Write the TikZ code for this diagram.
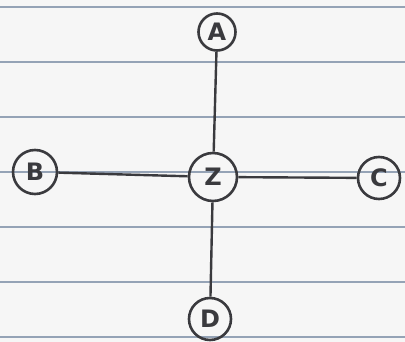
\documentclass[tikz,border=0pt]{standalone}
\usepackage{fontspec}
\setmainfont{DejaVu Sans}
\definecolor{ink}{HTML}{3A3A3E}
\definecolor{rule}{HTML}{95A3B6}
\definecolor{paper}{HTML}{F6F6F6}
\begin{document}
\begin{tikzpicture}[x=1pt,y=-1pt,
  vert/.style={circle,draw=ink,line width=2.6pt,minimum size=40pt,inner sep=0pt,text=ink,font=\fontsize{24}{24}\selectfont\bfseries},
  edge/.style={draw=ink,line width=2.4pt},
  ruleline/.style={draw=rule,line width=2pt}]
\fill[paper] (0,0) rectangle (405,342);
\useasboundingbox (0,0) rectangle (405,342);
\foreach \y in {7,62,117,172,227,282,337}
  \draw[ruleline] (0,\y) -- (405,\y);
\node[vert,minimum size=37pt] (A) at (217,32) {A};
\node[vert,minimum size=44pt] (B) at (35,172) {B};
\node[vert,minimum size=48pt] (Z) at (213,177) {Z};
\node[vert,minimum size=42pt] (C) at (379,178) {C};
\node[vert,minimum size=42pt] (D) at (210,319) {D};
\draw[edge] (A) -- (Z);
\draw[edge] (B) -- (Z);
\draw[edge] (Z) -- (C);
\draw[edge] (Z) -- (D);
\end{tikzpicture}
\end{document}
